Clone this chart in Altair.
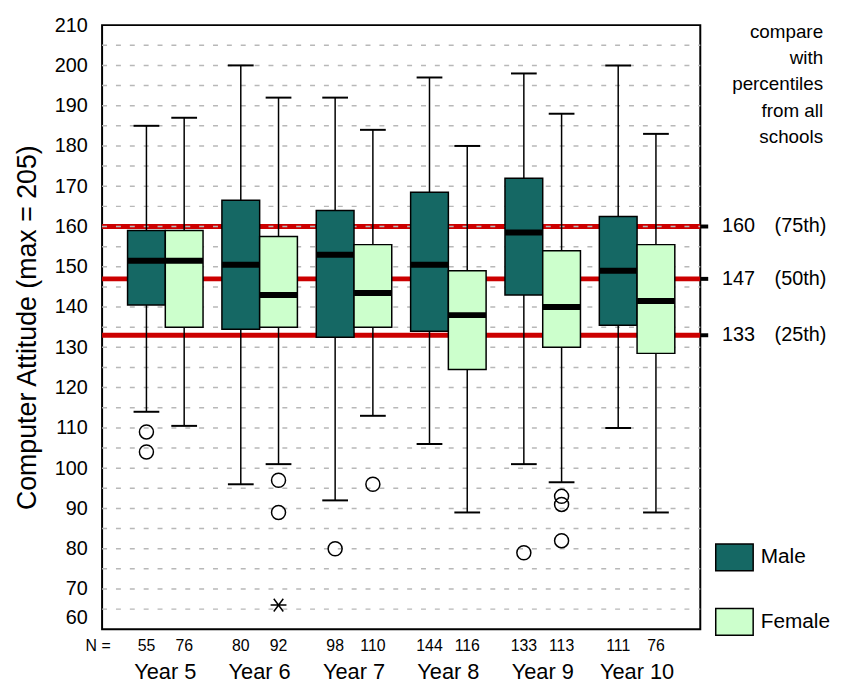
import altair as alt
import pandas as pd

years = ["Year 5", "Year 6", "Year 7", "Year 8", "Year 9", "Year 10"]
sexes = ["Male", "Female"]

male_n = [55, 80, 98, 144, 133, 111]
female_n = [76, 92, 110, 116, 113, 76]

male_upper = [185, 200, 192, 197, 198, 200]
male_q3 = [159, 166.5, 164, 168.5, 172, 162.5]
male_median = [151.5, 150.5, 153, 150.5, 158.5, 149]
male_q1 = [140.5, 134.5, 132.5, 134, 143, 135.5]
male_lower = [114, 96, 92, 106, 101, 110]

female_upper = [187, 192, 184, 180, 188, 183]
female_q3 = [159, 157.5, 155.5, 149, 154, 155.5]
female_median = [151.5, 143, 143.5, 138, 140, 141.5]
female_q1 = [135, 135, 135, 124.5, 130, 128.5]
female_lower = [110.5, 101, 113, 89, 96.5, 89]

outlier_year = ["Year 5", "Year 5", "Year 6", "Year 6", "Year 7", "Year 7",
                "Year 9", "Year 9", "Year 9", "Year 9"]
outlier_sex = ["Male", "Male", "Female", "Female", "Male", "Female",
               "Male", "Female", "Female", "Female"]
outlier_value = [109, 104, 97, 89, 80, 96, 79, 93, 91, 82]

extreme_year = ["Year 6"]
extreme_sex = ["Female"]
extreme_value = [66]

ref_values = [160, 147, 133]
ref_labels = ["(75th)", "(50th)", "(25th)"]

y_ticks = list(range(60, 211, 10))
grid_values = list(range(65, 206, 5))

note_text = "compare\nwith\npercentiles\nfrom all\nschools"

MALE_COLOR = "#156864"
FEMALE_COLOR = "#ccffcc"
FONT = "Liberation Sans"
W, H = 604, 610

# ---------- tables ----------
rows = []
for i, yr in enumerate(years):
    rows.append(dict(year=yr, sex="Male", n=male_n[i], lower=male_lower[i], q1=male_q1[i],
                     median=male_median[i], q3=male_q3[i], upper=male_upper[i]))
    rows.append(dict(year=yr, sex="Female", n=female_n[i], lower=female_lower[i], q1=female_q1[i],
                     median=female_median[i], q3=female_q3[i], upper=female_upper[i]))
box_df = pd.DataFrame(rows)
out_df = pd.DataFrame(dict(year=outlier_year, sex=outlier_sex, value=outlier_value))
ext_df = pd.DataFrame(dict(year=extreme_year, sex=extreme_sex, value=extreme_value))
ref_df = pd.DataFrame(dict(value=ref_values, label=ref_labels))
grid_df = pd.DataFrame(dict(value=grid_values))

yscale = alt.Scale(domain=[60, 210], nice=False, zero=False)
yaxis = alt.Axis(
    values=y_ticks, grid=False, ticks=False, tickSize=0, domain=False,
    labelFont=FONT, labelFontSize=20, labelColor="black", labelPadding=15,
    labelOverlap=False,
    labelOffset={"condition": {"test": "datum.value == 60", "value": -12}, "value": 0},
    title="Computer Attitude (max = 205)", titleFont=FONT, titleFontSize=27,
    titleFontWeight="normal", titleColor="black", titleX=-75, titleY=305,
    titleAngle=270, titleBaseline="middle", titleAlign="center",
)
xscale = alt.Scale(domain=years, paddingInner=0.2, paddingOuter=0.27)
xaxis = alt.Axis(title=None, ticks=False, tickSize=0, domain=False, labelAngle=0,
                 labelFont=FONT, labelFontSize=22, labelColor="black",
                 labelPadding=43, labelBaseline="middle")


def Y(field):
    return alt.Y(f"{field}:Q", scale=yscale, axis=yaxis)


def X():
    return alt.X("year:N", scale=xscale, axis=xaxis, sort=years)


def XO():
    return alt.XOffset("sex:N", scale=alt.Scale(domain=sexes), sort=sexes)


red = alt.Chart(ref_df).mark_rule(color="#cc0000", strokeWidth=5).encode(
    y=Y("value"), x=alt.value(0), x2=alt.value(W))
red_end = alt.Chart(ref_df).mark_rule(color="black", strokeWidth=4).encode(
    y=Y("value"), x=alt.value(W), x2=alt.value(W + 8))
ref_num = alt.Chart(ref_df).mark_text(align="left", baseline="middle", fontSize=20,
                                      font=FONT, color="black").encode(
    y=Y("value"), x=alt.value(626), text="value:Q")
ref_lab = alt.Chart(ref_df).mark_text(align="left", baseline="middle", fontSize=20,
                                      font=FONT, color="black").encode(
    y=Y("value"), x=alt.value(679), text="label:N")

grid = alt.Chart(grid_df).mark_rule(color="#b8b8b8", strokeDash=[5, 9], strokeWidth=1.5).encode(
    y=Y("value"), x=alt.value(0), x2=alt.value(W))

whisk = alt.Chart(box_df).mark_rule(color="black", strokeWidth=1.5).encode(
    x=X(), xOffset=XO(), y=Y("lower"), y2="upper:Q")
cap_hi = alt.Chart(box_df).mark_tick(color="black", size=26, thickness=2, opacity=1).encode(
    x=X(), xOffset=XO(), y=Y("upper"))
cap_lo = alt.Chart(box_df).mark_tick(color="black", size=26, thickness=2, opacity=1).encode(
    x=X(), xOffset=XO(), y=Y("lower"))

boxes = alt.Chart(box_df).mark_bar(stroke="black", strokeWidth=1.5, opacity=1).encode(
    x=X(), xOffset=XO(), y=Y("q1"), y2="q3:Q",
    fill=alt.Fill("sex:N", scale=alt.Scale(domain=sexes, range=[MALE_COLOR, FEMALE_COLOR]),
                  legend=alt.Legend(orient="none", legendX=624, legendY=523, title=None,
                                    symbolType="M-1.4,-1L1.4,-1L1.4,1L-1.4,1Z",
                                    symbolSize=729, symbolStrokeColor="black",
                                    symbolStrokeWidth=1.5, symbolOpacity=1,
                                    labelFont=FONT, labelFontSize=21, labelColor="black",
                                    labelOffset=12, rowPadding=32, padding=0)))
med = alt.Chart(box_df).mark_tick(color="black", size=38, thickness=6, opacity=1).encode(
    x=X(), xOffset=XO(), y=Y("median"))

outl = alt.Chart(out_df).mark_point(shape="circle", size=200, color="black", strokeWidth=1.5,
                                    filled=False, opacity=1).encode(
    x=X(), xOffset=XO(), y=Y("value"))
ext = alt.Chart(ext_df).mark_point(shape="M-1,0L1,0M-0.6,-0.8L0.6,0.8M-0.6,0.8L0.6,-0.8",
                                   size=256, color="black", strokeWidth=1.5,
                                   filled=False, opacity=1).encode(
    x=X(), xOffset=XO(), y=Y("value"))

nlab = alt.Chart(box_df).mark_text(fontSize=16, font=FONT, color="black",
                                   baseline="middle").encode(
    x=X(), xOffset=XO(), y=alt.value(H + 17), text="n:Q")
nhead = alt.Chart(pd.DataFrame(dict(t=["N ="]))).mark_text(
    fontSize=16, font=FONT, color="black", baseline="middle", align="center").encode(
    x=alt.value(-4), y=alt.value(H + 17), text="t:N")

note = alt.Chart(pd.DataFrame(dict(t=[note_text]))).mark_text(
    fontSize=19, font=FONT, color="black", align="right", baseline="alphabetic",
    lineBreak="\n", lineHeight=26.5).encode(
    x=alt.value(728), y=alt.value(13), text="t:N")

chart = alt.layer(
    red, grid, red_end, ref_num, ref_lab, whisk, boxes, med, cap_hi, cap_lo,
    outl, ext, nlab, nhead, note
).properties(
    width=W, height=H,
    padding={"left": 95, "top": 14, "right": 134, "bottom": 55},
    autosize=alt.AutoSizeParams(type="none"),
).configure(font=FONT).configure_view(stroke="black", strokeWidth=2)

chart.save("out.html", embed_options={"renderer": "svg", "actions": False})
